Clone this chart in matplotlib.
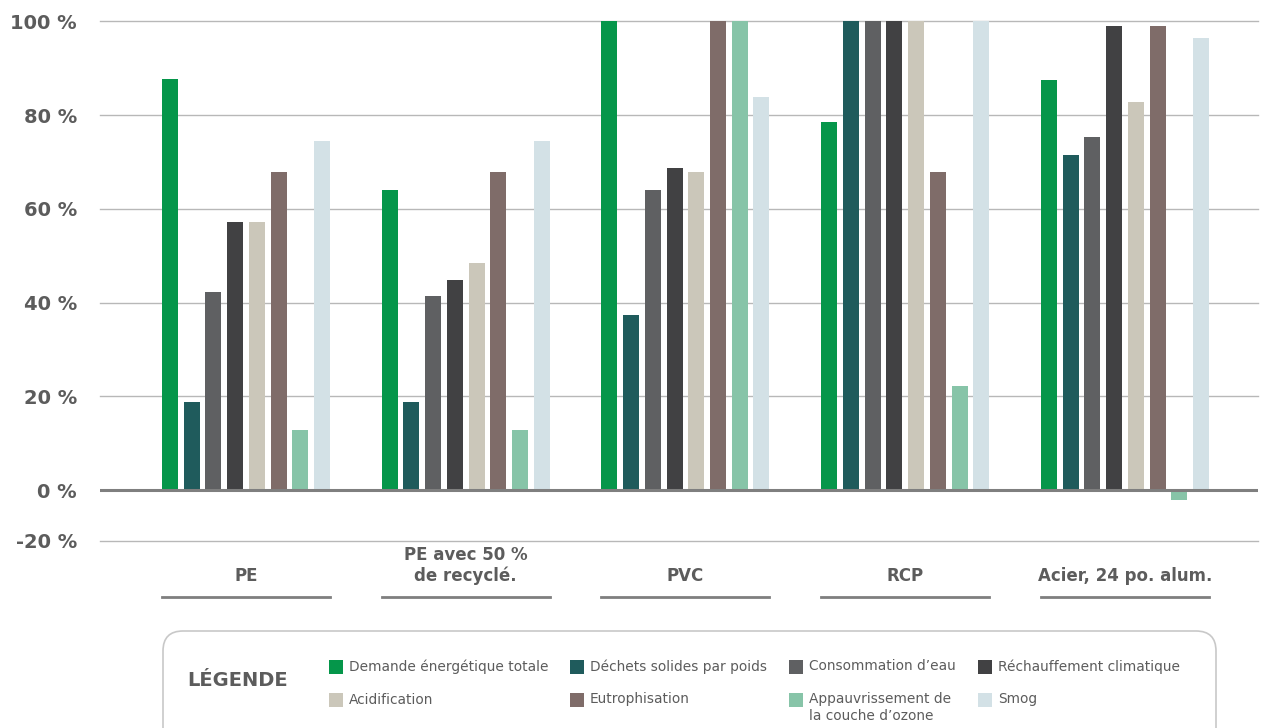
import numpy as np
import matplotlib.pyplot as plt
from matplotlib.patches import FancyBboxPatch, Rectangle
from matplotlib.lines import Line2D

# Set graph parameters.
plt.rcParams['font.family'] = ['DejaVu Sans']
plt.rcParams['axes.linewidth'] = 0

# Data (percent).
categories = ["PE", "PE avec 50 %\nde recyclé.", "PVC", "RCP", "Acier, 24 po. alum."]
series_names = ["Demande énergétique totale", "Déchets solides par poids",
                "Consommation d’eau", "Réchauffement climatique",
                "Acidification", "Eutrophisation",
                "Appauvrissement de\nla couche d’ozone", "Smog"]
energie = [87.6, 64.0, 100, 78.5, 87.4]
dechets = [18.8, 18.8, 37.3, 100, 71.4]
eau = [42.2, 41.4, 64.0, 100, 75.3]
rechauffement = [57.1, 44.8, 68.7, 100, 98.9]
acidification = [57.1, 48.4, 67.8, 100, 82.7]
eutrophisation = [67.8, 67.8, 100, 67.8, 98.9]
ozone = [12.8, 12.8, 100, 22.2, -2.1]
smog = [74.4, 74.4, 83.8, 100, 96.4]
tick_values = [-20, 0, 20, 40, 60, 80, 100]
tick_labels = ["-20 %", "0 %", "20 %", "40 %", "60 %", "80 %", "100 %"]

series = [energie, dechets, eau, rechauffement, acidification, eutrophisation, ozone, smog]
colors = ["#05964a", "#1f5b5c", "#5f6062", "#414143",
          "#cbc7ba", "#7f6c69", "#87c4a8", "#d3e1e6"]
text_color = "#5c5c5c"

# Layout.
ymin = -10.87          # the "-20 %" line sits at the bottom edge (compressed scale)
bar_step = 0.0988
bar_width = 0.0728

fig = plt.figure(figsize=(12.87, 7.28), dpi=100)
ax = fig.add_axes([100 / 1287, 1 - 541 / 728, 1158 / 1287, (541 - 21.3) / 728])

x = np.arange(len(categories))
for idx, (vals, col) in enumerate(zip(series, colors)):
    offset = (idx - 3.5) * bar_step
    ax.bar(x + offset, vals, width=bar_width, color=col, zorder=3, label=series_names[idx])

ax.set_xlim(-0.664, 4.605)
ax.set_ylim(ymin, 100)

# Grid lines.
tick_pos = [ymin if v < 0 else v for v in tick_values]
for v in tick_pos:
    if v == 0:
        continue
    ax.axhline(v, color="#b8b8b8", lw=1.0, zorder=1, clip_on=False)
ax.axhline(0, color="#7f7f7f", lw=2.2, zorder=4)

ax.set_yticks(tick_pos)
ax.set_yticklabels(tick_labels, fontsize=14, fontweight='bold', color=text_color)
ax.tick_params(axis='y', length=0, pad=16.5)
ax.set_xticks([])

# Category labels with underlines.
for i, cat in enumerate(categories):
    ax.text(i, -19.4, cat, ha='center', va='baseline', fontsize=12, fontweight='bold',
            color=text_color, linespacing=1.15, clip_on=False)
    left = i - 3.5 * bar_step - bar_width / 2
    right = i + 3.5 * bar_step + bar_width / 2
    ax.add_line(Line2D([left, right], [-22.9, -22.9], color="#7f7f7f", lw=2, clip_on=False))

# Legend box.
box = FancyBboxPatch((1.63 + 0.2, -0.5), 12.16 - 1.63 - 0.4, 0.97 + 0.5 - 0.2,
                     boxstyle="round,pad=0.2", transform=fig.dpi_scale_trans,
                     facecolor="white", edgecolor="#c8c8c8", lw=1.2, clip_on=False)
fig.patches.append(box)
fig.text(187 / 1287, 1 - 681 / 728, "LÉGENDE", fontsize=14, fontweight='bold',
         color=text_color, va='center', ha='left')

col_x = [329, 570, 789, 978]
row_y = [667, 700]
for idx, name in enumerate(series_names):
    cx = col_x[idx % 4]
    cy = row_y[idx // 4]
    sq = Rectangle((cx / 100, (728 - cy - 7) / 100), 0.14, 0.14,
                   transform=fig.dpi_scale_trans, facecolor=colors[idx], edgecolor='none')
    fig.patches.append(sq)
    fig.text((cx + 20) / 1287, 1 - (cy - 7.5) / 728, name, fontsize=9.9, color=text_color,
             va='top', ha='left', linespacing=1.2)

fig.savefig("out.png", dpi=100)
